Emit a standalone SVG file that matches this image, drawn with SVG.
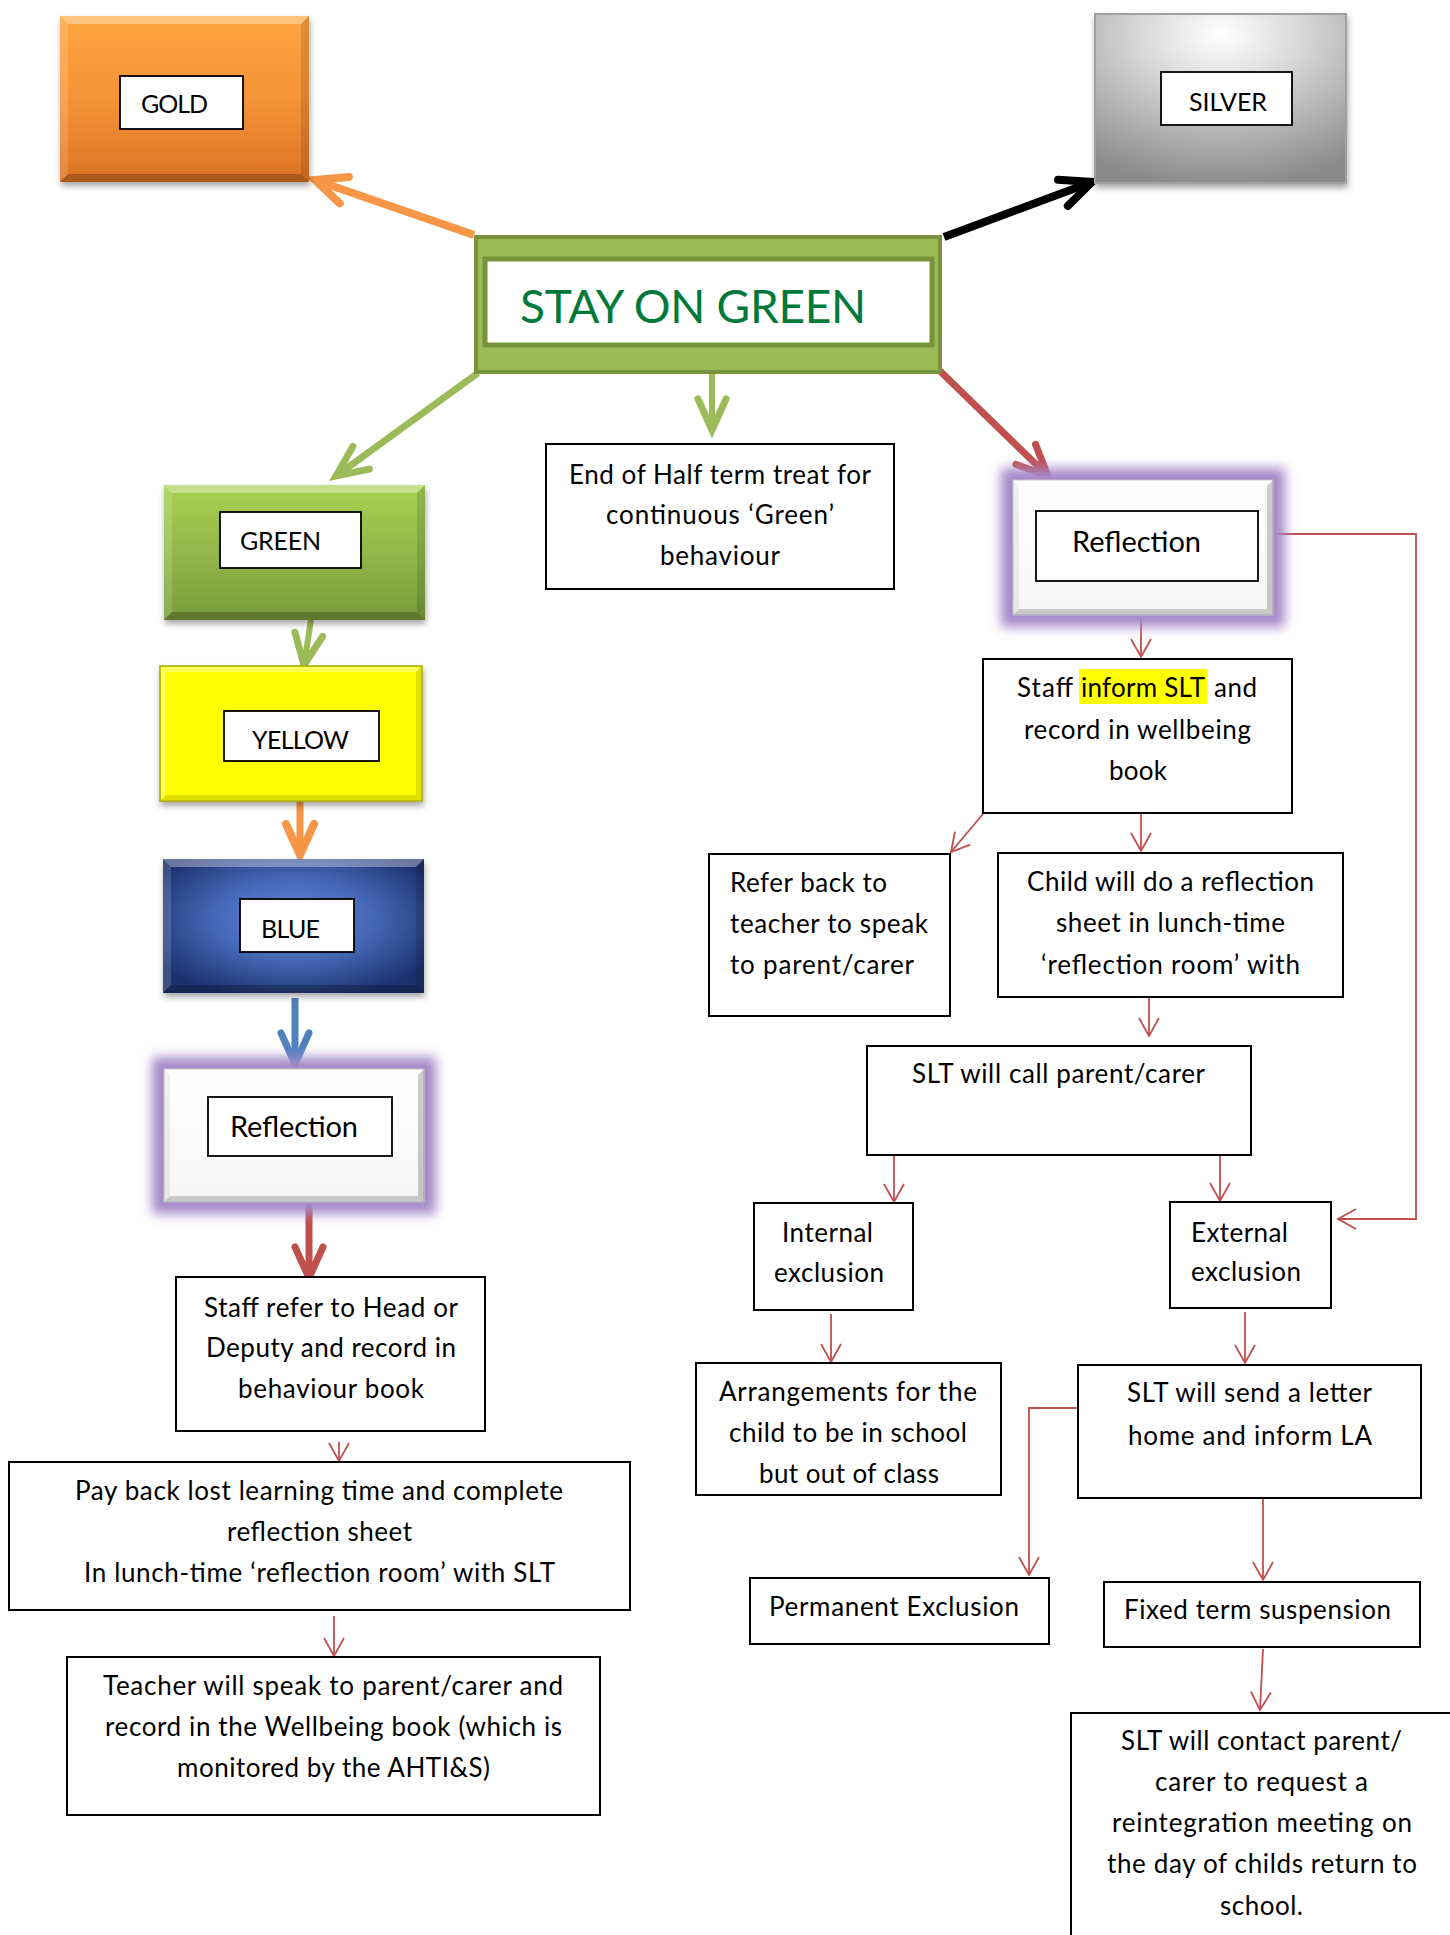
<svg xmlns="http://www.w3.org/2000/svg" width="1450" height="1935" viewBox="0 0 1450 1935">
<style>
.t{font-family:Lato,"Open Sans","Liberation Sans",sans-serif;font-size:26px;fill:#000}
.lb{font-family:Lato,"Open Sans","Liberation Sans",sans-serif;font-size:25px;fill:#000}
.rf{font-family:Lato,"Open Sans","Liberation Sans",sans-serif;font-size:29px;fill:#000}
.box{fill:#fff;stroke:#000;stroke-width:2}
.lab{fill:#fff;stroke:#000;stroke-width:1.8}
.thin{fill:none;stroke:#C0504D;stroke-width:1.8;marker-end:url(#mThin)}
.hl{fill:#fff;opacity:.35}
.dk{fill:#000;opacity:.22}
.hl2{fill:#fff;opacity:.15}
.dk2{fill:#000;opacity:.12}
.glw{fill:#A488C8;filter:url(#glow)}
</style>
<defs>
<linearGradient id="gGold" x1="0" y1="0" x2="0" y2="1"><stop offset="0" stop-color="#FCA53E"/><stop offset="0.5" stop-color="#F59337"/><stop offset="1" stop-color="#DC7224"/></linearGradient>
<linearGradient id="gGreen" x1="0" y1="0" x2="0" y2="1"><stop offset="0" stop-color="#A8D052"/><stop offset="0.5" stop-color="#93B74A"/><stop offset="1" stop-color="#789A3A"/></linearGradient>
<radialGradient id="gBlue" cx="0.5" cy="0.45" r="0.62"><stop offset="0" stop-color="#6289D6"/><stop offset="0.5" stop-color="#4567B6"/><stop offset="1" stop-color="#1B306D"/></radialGradient>
<radialGradient id="gSilver" cx="0.5" cy="0.12" r="0.9"><stop offset="0" stop-color="#FFFFFF"/><stop offset="0.35" stop-color="#D9D9D9"/><stop offset="0.75" stop-color="#A8A8A8"/><stop offset="1" stop-color="#8A8A8A"/></radialGradient>
<linearGradient id="gRefl" x1="0" y1="0" x2="0" y2="1"><stop offset="0" stop-color="#FFFFFF"/><stop offset="1" stop-color="#F6F6F6"/></linearGradient>
<filter id="sh" x="-10%" y="-10%" width="120%" height="130%"><feDropShadow dx="1" dy="4" stdDeviation="3" flood-color="#000" flood-opacity="0.35"/></filter>
<filter id="glow" x="-20%" y="-30%" width="140%" height="160%"><feGaussianBlur stdDeviation="6"/></filter>
<marker id="mThin" markerUnits="userSpaceOnUse" orient="auto" refX="0" refY="0" markerWidth="40" markerHeight="40" overflow="visible"><path d="M-18,-10 L0,0 L-18,10" fill="none" stroke="#C0504D" stroke-width="1.8"/></marker>
<marker id="mOr" markerUnits="userSpaceOnUse" orient="auto" overflow="visible" markerWidth="60" markerHeight="60"><path d="M-31,-14 L0,0 L-31,14" fill="none" stroke="#F79646" stroke-width="8" stroke-linecap="round"/></marker>
<marker id="mBk" markerUnits="userSpaceOnUse" orient="auto" overflow="visible" markerWidth="60" markerHeight="60"><path d="M-31,-14 L0,0 L-31,14" fill="none" stroke="#000" stroke-width="8" stroke-linecap="round"/></marker>
<marker id="mGr" markerUnits="userSpaceOnUse" orient="auto" overflow="visible" markerWidth="60" markerHeight="60"><path d="M-31,-14 L0,0 L-31,14" fill="none" stroke="#9BBB59" stroke-width="7" stroke-linecap="round"/></marker>
<marker id="mRd" markerUnits="userSpaceOnUse" orient="auto" overflow="visible" markerWidth="60" markerHeight="60"><path d="M-31,-14 L0,0 L-31,14" fill="none" stroke="#C0504D" stroke-width="7" stroke-linecap="round"/></marker>
<marker id="mBl" markerUnits="userSpaceOnUse" orient="auto" overflow="visible" markerWidth="60" markerHeight="60"><path d="M-31,-14 L0,0 L-31,14" fill="none" stroke="#4F81BD" stroke-width="7" stroke-linecap="round"/></marker>
</defs>
<rect x="0" y="0" width="1450" height="1935" fill="#fff"/>

<g id="connectors">
<line x1="474" y1="235" x2="315" y2="180" stroke="#F79646" stroke-width="8" marker-end="url(#mOr)"/>
<line x1="944" y1="237" x2="1092" y2="182" stroke="#000" stroke-width="8" marker-end="url(#mBk)"/>
<line x1="478" y1="373" x2="336" y2="476" stroke="#9BBB59" stroke-width="7" marker-end="url(#mGr)"/>
<line x1="712" y1="347" x2="712" y2="430" stroke="#9BBB59" stroke-width="6" marker-end="url(#mGr)"/>
<line x1="940" y1="371" x2="1048" y2="476" stroke="#C0504D" stroke-width="7" marker-end="url(#mRd)"/>
<line x1="311" y1="620" x2="304" y2="665" stroke="#9BBB59" stroke-width="6" marker-end="url(#mGr)"/>
<line x1="300" y1="801" x2="300" y2="855" stroke="#F79646" stroke-width="7" marker-end="url(#mOr)"/>
<line x1="295" y1="998" x2="295" y2="1064" stroke="#4F81BD" stroke-width="7" marker-end="url(#mBl)"/>
<line x1="309" y1="1204" x2="309" y2="1278" stroke="#C0504D" stroke-width="7" marker-end="url(#mRd)"/>
<line class="thin" x1="1141" y1="616" x2="1141" y2="657"/>
<line class="thin" x1="983" y1="814" x2="951" y2="852"/>
<line class="thin" x1="1141" y1="814" x2="1141" y2="851"/>
<line class="thin" x1="1149" y1="998" x2="1149" y2="1036"/>
<line class="thin" x1="894" y1="1156" x2="894" y2="1202"/>
<line class="thin" x1="1220" y1="1156" x2="1220" y2="1201"/>
<polyline class="thin" points="1258,534 1416,534 1416,1219 1338,1219"/>
<line class="thin" x1="831" y1="1314" x2="831" y2="1362"/>
<line class="thin" x1="1245" y1="1312" x2="1245" y2="1363"/>
<polyline class="thin" points="1077,1408 1029,1408 1029,1575"/>
<line class="thin" x1="1263" y1="1499" x2="1263" y2="1580"/>
<line class="thin" x1="1263" y1="1649" x2="1260" y2="1710"/>
<line class="thin" x1="339" y1="1442" x2="339" y2="1461"/>
<line class="thin" x1="334" y1="1616" x2="334" y2="1656"/>
</g>

<g id="gold">
<rect x="60" y="16" width="249" height="166" fill="url(#gGold)" filter="url(#sh)"/>
<polygon class="hl" points="60,16 309,16 301,24 68,24"/>
<polygon class="dk" points="60,182 309,182 301,174 68,174"/>
<polygon class="hl2" points="60,16 68,24 68,174 60,182"/>
<polygon class="dk2" points="309,16 301,24 301,174 309,182"/>
<rect class="lab" x="120" y="76" width="123" height="53"/>
<text class="lb" x="141" y="113" textLength="67">GOLD</text>
</g>

<g id="silver">
<rect x="1095" y="14" width="251" height="169" fill="url(#gSilver)" stroke="#A0A0A0" stroke-width="2" filter="url(#sh)"/>
<rect class="lab" x="1161" y="72" width="131" height="53"/>
<text class="lb" x="1189" y="111" textLength="78">SILVER</text>
</g>

<g id="stay-on-green">
<rect x="476" y="237" width="464" height="135" fill="#9BBB59" stroke="#77933C" stroke-width="4"/>
<rect x="485" y="259" width="447" height="86" fill="#fff" stroke="#77933C" stroke-width="5"/>
<text x="520" y="323" textLength="346" style="font-family:Lato,'Open Sans',sans-serif;font-size:46px;fill:#00793A">STAY ON GREEN</text>
</g>

<g id="end-half-term">
<rect class="box" x="546" y="444" width="348" height="145" stroke-width="2.5"/>
<text class="t" x="569" y="484" textLength="302">End of Half term treat for</text>
<text class="t" x="606" y="524" textLength="228">continuous ‘Green’</text>
<text class="t" x="660" y="565" textLength="120">behaviour</text>
</g>

<g id="green">
<rect x="164" y="485" width="261" height="135" fill="url(#gGreen)" filter="url(#sh)"/>
<polygon class="hl" points="164,485 425,485 417,493 172,493"/>
<polygon class="dk" points="164,620 425,620 417,612 172,612"/>
<polygon class="hl2" points="164,485 172,493 172,612 164,620"/>
<polygon class="dk2" points="425,485 417,493 417,612 425,620"/>
<rect class="lab" x="220" y="512" width="141" height="56"/>
<text class="lb" x="240" y="550" textLength="81">GREEN</text>
</g>

<g id="yellow">
<rect x="160" y="666" width="262" height="135" fill="#FFFF00" stroke="#A8A800" stroke-width="1.5" filter="url(#sh)"/>
<polygon class="hl" points="161,667 421,667 416,672 166,672"/>
<polygon class="dk2" points="161,800 421,800 416,795 166,795"/>
<polygon class="hl" points="161,667 166,672 166,795 161,800"/>
<polygon class="dk2" points="421,667 416,672 416,795 421,800"/>
<rect class="lab" x="224" y="711" width="155" height="50"/>
<text class="lb" x="252" y="749" textLength="97">YELLOW</text>
</g>

<g id="blue">
<rect x="163" y="859" width="261" height="134" fill="url(#gBlue)" filter="url(#sh)"/>
<polygon class="hl" points="163,859 424,859 416,867 171,867"/>
<polygon class="dk" points="163,993 424,993 416,985 171,985"/>
<polygon class="hl2" points="163,859 171,867 171,985 163,993"/>
<polygon class="dk2" points="424,859 416,867 416,985 424,993"/>
<rect class="lab" x="240" y="899" width="114" height="53"/>
<text class="lb" x="261" y="938" textLength="59">BLUE</text>
</g>

<g id="reflection-left">
<rect class="glw" x="152" y="1057" width="284" height="157"/>
<rect x="164" y="1069" width="260" height="133" fill="url(#gRefl)" stroke="#C8C8C8" stroke-width="1"/>
<polygon fill="#000" opacity="0.18" points="164,1202 424,1202 418,1196 170,1196"/>
<polygon fill="#000" opacity="0.2" points="424,1069 418,1075 418,1196 424,1202"/>
<polygon fill="#000" opacity="0.06" points="164,1069 170,1075 170,1196 164,1202"/>
<rect class="lab" x="208" y="1097" width="184" height="59" stroke-width="1.5"/>
<text class="rf" x="230" y="1137" textLength="128">Reflection</text>
</g>

<g id="staff-refer">
<rect class="box" x="176" y="1277" width="309" height="154" stroke-width="1.8"/>
<text class="t" x="204" y="1317" textLength="254">Staff refer to Head or</text>
<text class="t" x="206" y="1357" textLength="250">Deputy and record in</text>
<text class="t" x="238" y="1398" textLength="186">behaviour book</text>
</g>

<g id="pay-back">
<rect class="box" x="9" y="1462" width="621" height="148" stroke-width="1.8"/>
<text class="t" x="75" y="1500" textLength="488">Pay back lost learning time and complete</text>
<text class="t" x="227" y="1541" textLength="185">reflection sheet</text>
<text class="t" x="84" y="1582" textLength="471">In lunch-time ‘reflection room’ with SLT</text>
</g>

<g id="teacher">
<rect class="box" x="67" y="1657" width="533" height="158" stroke-width="1.8"/>
<text class="t" x="103" y="1695" textLength="460">Teacher will speak to parent/carer and</text>
<text class="t" x="105" y="1736" textLength="457">record in the Wellbeing book (which is</text>
<text class="t" x="177" y="1777" textLength="313">monitored by the AHTI&amp;S)</text>
</g>

<g id="reflection-right">
<rect class="glw" x="1001" y="468" width="284" height="159"/>
<rect x="1013" y="480" width="260" height="135" fill="url(#gRefl)" stroke="#C8C8C8" stroke-width="1"/>
<polygon fill="#000" opacity="0.18" points="1013,615 1273,615 1267,609 1019,609"/>
<polygon fill="#000" opacity="0.2" points="1273,480 1267,486 1267,609 1273,615"/>
<polygon fill="#000" opacity="0.06" points="1013,480 1019,486 1019,609 1013,615"/>
<rect class="lab" x="1036" y="511" width="222" height="70" stroke-width="1.5"/>
<text class="rf" x="1072" y="552" textLength="129">Reflection</text>
</g>

<g id="staff-inform">
<rect class="box" x="983" y="659" width="309" height="154" stroke-width="1.8"/>
<rect x="1079" y="669" width="128" height="35" fill="#FFFF00"/>
<text class="t" x="1017" y="697" textLength="56">Staff</text>
<text class="t" x="1081" y="697" textLength="124">inform SLT</text>
<text class="t" x="1214" y="697" textLength="43">and</text>
<text class="t" x="1024" y="739" textLength="227">record in wellbeing</text>
<text class="t" x="1109" y="780" textLength="58">book</text>
</g>

<g id="refer-back">
<rect class="box" x="709" y="854" width="241" height="162" stroke-width="1.8"/>
<text class="t" x="730" y="892" textLength="157">Refer back to</text>
<text class="t" x="730" y="933" textLength="198">teacher to speak</text>
<text class="t" x="730" y="974" textLength="184">to parent/carer</text>
</g>

<g id="child-reflection">
<rect class="box" x="998" y="853" width="345" height="144" stroke-width="1.8"/>
<text class="t" x="1027" y="891" textLength="287">Child will do a reflection</text>
<text class="t" x="1056" y="932" textLength="229">sheet in lunch-time</text>
<text class="t" x="1041" y="974" textLength="259">‘reflection room’ with</text>
</g>

<g id="slt-call">
<rect class="box" x="867" y="1046" width="384" height="109" stroke-width="1.8"/>
<text class="t" x="912" y="1083" textLength="293">SLT will call parent/carer</text>
</g>

<g id="internal-exclusion">
<rect class="box" x="754" y="1203" width="159" height="107" stroke-width="1.8"/>
<text class="t" x="782" y="1242" textLength="91">Internal</text>
<text class="t" x="774" y="1282" textLength="110">exclusion</text>
</g>

<g id="external-exclusion">
<rect class="box" x="1170" y="1202" width="161" height="106" stroke-width="1.8"/>
<text class="t" x="1191" y="1242" textLength="97">External</text>
<text class="t" x="1191" y="1281" textLength="110">exclusion</text>
</g>

<g id="arrangements">
<rect class="box" x="696" y="1363" width="305" height="132" stroke-width="1.8"/>
<text class="t" x="719" y="1401" textLength="258">Arrangements for the</text>
<text class="t" x="729" y="1442" textLength="238">child to be in school</text>
<text class="t" x="759" y="1483" textLength="180">but out of class</text>
</g>

<g id="slt-letter">
<rect class="box" x="1078" y="1365" width="343" height="133" stroke-width="1.8"/>
<text class="t" x="1127" y="1402" textLength="245">SLT will send a letter</text>
<text class="t" x="1128" y="1445" textLength="244">home and inform LA</text>
</g>

<g id="permanent-exclusion">
<rect class="box" x="750" y="1578" width="299" height="66" stroke-width="1.8"/>
<text class="t" x="769" y="1616" textLength="250">Permanent Exclusion</text>
</g>

<g id="fixed-term">
<rect class="box" x="1104" y="1582" width="316" height="65" stroke-width="1.8"/>
<text class="t" x="1124" y="1619" textLength="267">Fixed term suspension</text>
</g>

<g id="slt-contact">
<rect class="box" x="1071" y="1713" width="400" height="240" stroke-width="1.8"/>
<text class="t" x="1121" y="1750" textLength="281">SLT will contact parent/</text>
<text class="t" x="1155" y="1791" textLength="213">carer to request a</text>
<text class="t" x="1112" y="1832" textLength="300">reintegration meeting on</text>
<text class="t" x="1107" y="1873" textLength="310">the day of childs return to</text>
<text class="t" x="1220" y="1915" textLength="83">school.</text>
</g>
</svg>
